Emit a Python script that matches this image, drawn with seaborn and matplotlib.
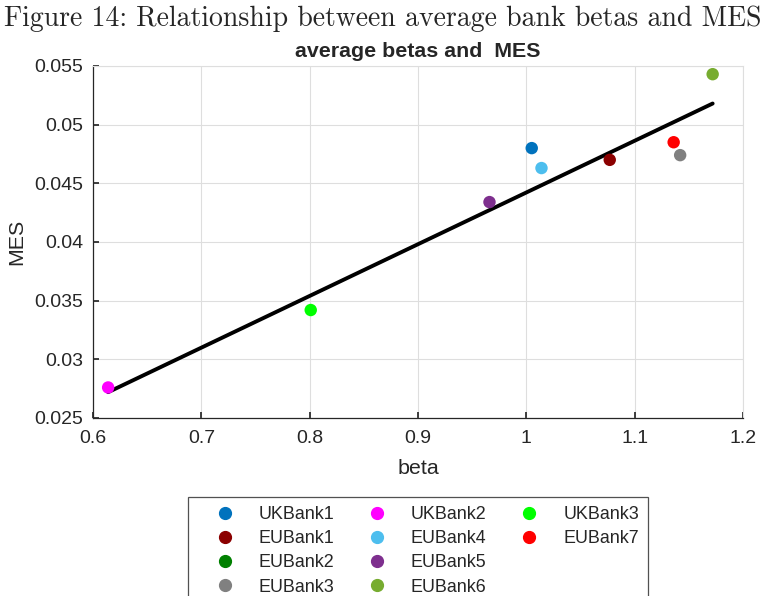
import matplotlib
matplotlib.use("Agg")
import matplotlib.pyplot as plt
import numpy as np
import pandas as pd
import seaborn as sns
from matplotlib.lines import Line2D

# bank names, in legend order
banks = ['UKBank1', 'EUBank1', 'EUBank2', 'EUBank3', 'UKBank2',
         'EUBank4', 'EUBank5', 'EUBank6', 'UKBank3', 'EUBank7']
# average beta per bank (EUBank2 has no visible point)
beta = [1.005, 1.077, np.nan, 1.142, 0.614,
        1.014, 0.966, 1.172, 0.801, 1.136]
# MES per bank
mes = [0.0480, 0.0470, np.nan, 0.0474, 0.0276,
       0.0463, 0.0434, 0.0543, 0.0342, 0.0485]
colors = ['#0072BD', '#8B0000', '#008000', '#808080', '#FF00FF',
          '#4DBEEE', '#7E2F8E', '#77AC30', '#00FF00', '#FF0000']

# fitted line end points
fit_x = [0.614, 1.172]
fit_y = [0.0272, 0.0518]

df = pd.DataFrame({'bank': banks, 'beta': beta, 'MES': mes})
fit_df = pd.DataFrame({'beta': fit_x, 'MES': fit_y})

sns.set_theme(style='white')
plt.rcParams['font.family'] = ['Liberation Sans', 'DejaVu Sans']

fig = plt.figure(figsize=(7.64, 5.96), dpi=100)
ax = fig.add_axes([0.1217, 0.2987, 0.8508, 0.5906])

# fit line
sns.lineplot(data=fit_df, x='beta', y='MES', ax=ax, color='black',
             lw=2.8, zorder=2, legend=False)

# points
palette = dict(zip(banks, colors))
sns.scatterplot(data=df.dropna(), x='beta', y='MES', hue='bank',
                palette=palette, s=80, edgecolor='none', ax=ax,
                zorder=3, legend=False)

ax.set_xlim(0.6, 1.2)
ax.set_ylim(0.025, 0.055)
ax.set_xticks(np.arange(0.6, 1.21, 0.1))
ax.set_xticklabels(['0.6', '0.7', '0.8', '0.9', '1', '1.1', '1.2'])
ax.set_yticks(np.arange(0.025, 0.0551, 0.005))
ax.set_yticklabels(['0.025', '0.03', '0.035', '0.04', '0.045', '0.05', '0.055'])
ax.grid(True, color='#dedede', lw=0.8)
ax.tick_params(direction='in', length=4, labelsize=14, colors='#262626',
               left=True, bottom=True)
ax.tick_params(axis='y', pad=7)
ax.tick_params(axis='x', pad=8.5)
for side in ['left', 'bottom']:
    ax.spines[side].set_color('#262626')
    ax.spines[side].set_linewidth(0.9)
for side in ['top', 'right']:
    ax.spines[side].set_color('#dedede')
    ax.spines[side].set_linewidth(0.8)

ax.set_xlabel('beta', fontsize=15.4, color='#262626', labelpad=8.5)
ax.set_ylabel('MES', fontsize=15.4, color='#262626', labelpad=6)
ax.set_title('average betas and  MES', fontsize=15.4, fontweight='bold',
             pad=6.5)

# caption in LaTeX-like serif
fig.text(0.501, 0.968, 'Figure 14: Relationship between average bank betas and MES',
         ha='center', va='center', fontsize=20, family=['cmr10', 'DejaVu Serif'])

# legend: 3 columns of 4 rows, filled column-wise
handles = [Line2D([], [], marker='o', ls='none', color=c, markersize=8.5)
           for c in colors]
labels = list(banks)
handles.append(Line2D([], [], ls='none'))
labels.append('')
leg = fig.legend(handles, labels, ncol=3, loc='upper center',
                 bbox_to_anchor=(0.547, 0.166), borderaxespad=0,
                 fontsize=12.9, frameon=True, fancybox=False,
                 edgecolor='#262626', handlelength=3.1, handletextpad=0.33,
                 columnspacing=0.85, labelspacing=0.4, borderpad=0.5)
leg.get_frame().set_linewidth(0.9)

fig.savefig('out.png', dpi=100)
